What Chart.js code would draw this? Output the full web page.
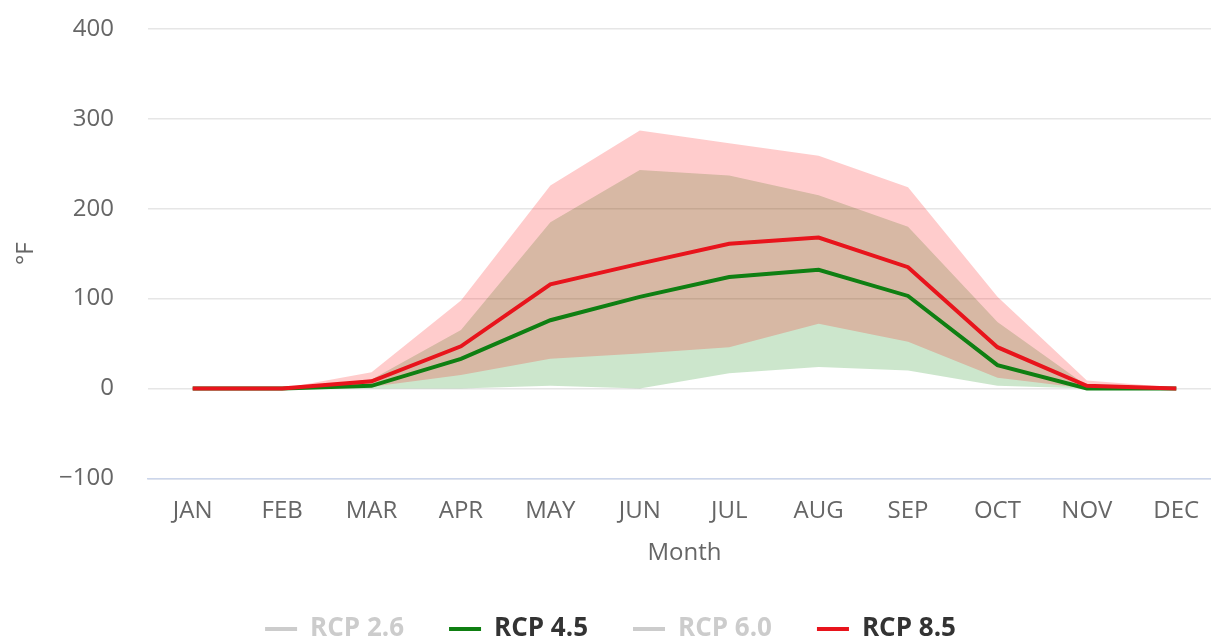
<!DOCTYPE html>
<html>
<head>
<meta charset="utf-8">
<script src="https://cdn.jsdelivr.net/npm/chart.js@4"></script>
<style>
  html, body { margin: 0; padding: 0; background: #fff; overflow: hidden; }
  #wrap { position: absolute; left: 0; top: 0; }
</style>
</head>
<body>
<div id="wrap"><canvas id="chart" width="1221" height="652"></canvas></div>
<script>
// Categories and tick settings
const months = ['JAN', 'FEB', 'MAR', 'APR', 'MAY', 'JUN', 'JUL', 'AUG', 'SEP', 'OCT', 'NOV', 'DEC'];
const yMin = -100;
const yMax = 400;
const yStep = 100;

// Mean lines (°F)
const rcp45Mean = [0, 0, 3, 33, 76, 102, 124, 132, 103, 26, 0, 0];
const rcp85Mean = [0, 0, 8, 47, 116, 139, 161, 168, 135, 46, 3, 0];

// Ranges (low / high)
const rcp45Low = [0, 0, 0, 0, 3, 0, 17, 24, 20, 3, 0, 0];
const rcp45High = [0, 0, 10, 65, 185, 243, 237, 215, 180, 74, 3, 0];
const rcp85Low = [0, 0, 2, 15, 33, 39, 46, 72, 52, 12, 0, 0];
const rcp85High = [0, 0, 18, 98, 226, 287, 273, 259, 224, 102, 9, 1];

// Legend entries (2.6 and 6.0 are switched off in the original)
const legendNames = ['RCP 2.6', 'RCP 4.5', 'RCP 6.0', 'RCP 8.5'];
const legendLineColors = ['#cccccc', '#0f7f12', '#cccccc', '#e8141c'];
const legendTextColors = ['#cccccc', '#333333', '#cccccc', '#333333'];

const GREEN = '#0f7f12';
const RED = '#e8141c';
const FONT = "'Open Sans', 'Noto Sans', sans-serif";

function band(data, color, fillTarget, order) {
    return {
        data: data,
        borderWidth: 0,
        borderColor: 'rgba(0,0,0,0)',
        backgroundColor: color,
        pointRadius: 0,
        fill: fillTarget,
        tension: 0,
        order: order
    };
}

const ctx = document.getElementById('chart').getContext('2d');
new Chart(ctx, {
    type: 'line',
    data: {
        labels: months,
        datasets: [
            { label: 'RCP 8.5', data: rcp85Mean, borderColor: RED, borderWidth: 4, pointRadius: 0, fill: false, order: 1 },
            { label: 'RCP 4.5', data: rcp45Mean, borderColor: GREEN, borderWidth: 4, pointRadius: 0, fill: false, order: 2 },
            band(rcp85Low, 'rgba(255,0,0,0.2)', false, 3),
            band(rcp85High, 'rgba(255,0,0,0.2)', '-1', 3),
            band(rcp45Low, 'rgba(0,128,0,0.2)', false, 4),
            band(rcp45High, 'rgba(0,128,0,0.2)', '-1', 4)
        ]
    },
    options: {
        responsive: false,
        animation: false,
        devicePixelRatio: 1,
        layout: { padding: { top: 29, left: 0, right: 0, bottom: 0 } },
        plugins: {
            tooltip: { enabled: false },
            legend: {
                position: 'bottom',
                labels: {
                    boxWidth: 32,
                    boxHeight: 4,
                    padding: 45,
                    font: { family: FONT, size: 26, weight: 'bold' },
                    generateLabels: () => legendNames.map((name, i) => ({
                        text: name,
                        fillStyle: legendLineColors[i],
                        strokeStyle: legendLineColors[i],
                        lineWidth: 0,
                        hidden: false,
                        fontColor: legendTextColors[i],
                        datasetIndex: i
                    }))
                },
                onClick: () => {}
            }
        },
        scales: {
            x: {
                offset: true,
                grid: { display: false, drawTicks: false },
                border: { display: true, color: '#ccd6eb', width: 1.5 },
                ticks: {
                    color: '#666666',
                    padding: 18,
                    font: { family: FONT, size: 24 },
                    maxRotation: 0,
                    autoSkip: false
                },
                title: {
                    display: true,
                    text: 'Month',
                    color: '#666666',
                    font: { family: FONT, size: 24 },
                    padding: { top: -4, bottom: 3 }
                }
            },
            y: {
                min: yMin,
                max: yMax,
                afterFit: s => { s.width = 148; },
                grid: {
                    color: '#e6e6e6',
                    lineWidth: 1.5,
                    drawTicks: true,
                    tickLength: 34,
                    tickColor: 'rgba(0,0,0,0)'
                },
                border: { display: false },
                ticks: {
                    stepSize: yStep,
                    color: '#666666',
                    padding: 0,
                    font: { family: FONT, size: 24 },
                    callback: v => (v < 0 ? '\u2212' + Math.abs(v) : String(v))
                },
                title: {
                    display: true,
                    text: '°F',
                    color: '#666666',
                    font: { family: FONT, size: 24 },
                    padding: { top: 12, bottom: 0 }
                }
            }
        }
    }
});
</script>
</body>
</html>
